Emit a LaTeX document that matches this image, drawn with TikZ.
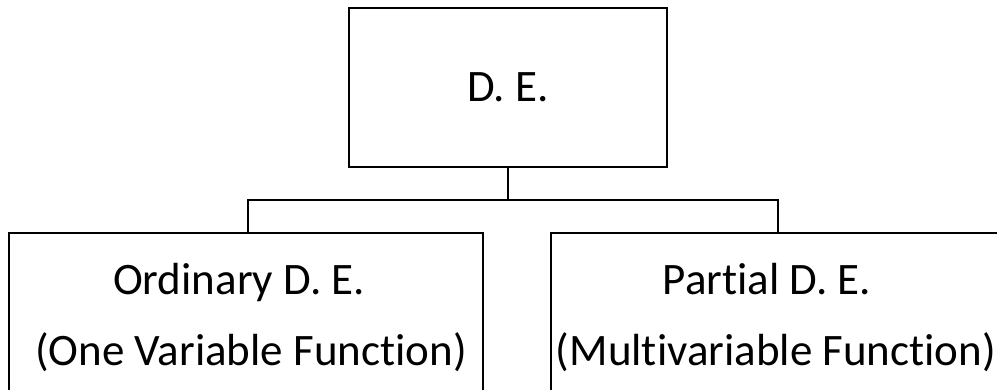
\documentclass[tikz,border=0pt]{standalone}
\usepackage{fontspec}
\setmainfont{Carlito}[Ligatures={NoCommon}]
\begin{document}
\begin{tikzpicture}[x=1pt,y=-1pt,
  boxstyle/.style={draw=black, line width=2.6pt, inner sep=0pt, fill=none},
  txt/.style={inner sep=0pt, anchor=base, font=\fontsize{45}{54}\selectfont},
  link/.style={draw=black, line width=2.6pt}]
\useasboundingbox (0,0) rectangle (997,390);
\node[boxstyle, minimum width=318pt, minimum height=159pt] (top) at (508,87.5) {};
\node[txt] (toptxt) at (508,102) {D. E.};
\node[boxstyle, minimum width=474pt, minimum height=190pt] (left) at (246,328) {};
\node[boxstyle, minimum width=474pt, minimum height=190pt] (right) at (788,328) {};
\node[txt] (l1) at (239,295) {Ordinary D. E.};
\node[txt] (l2) at (251,366) {(One Variable Function)};
\node[txt] (r1) at (767,295) {Partial D. E.};
\node[txt] (r2) at (776,366) {(Multivariable Function)};
\coordinate (j) at (508,200);
\coordinate (lb) at (248,233);
\coordinate (rb) at (778,233);
\draw[link] (top.south) -- (j);
\draw[link] (lb) |- (j) -| (rb);
\end{tikzpicture}
\end{document}
